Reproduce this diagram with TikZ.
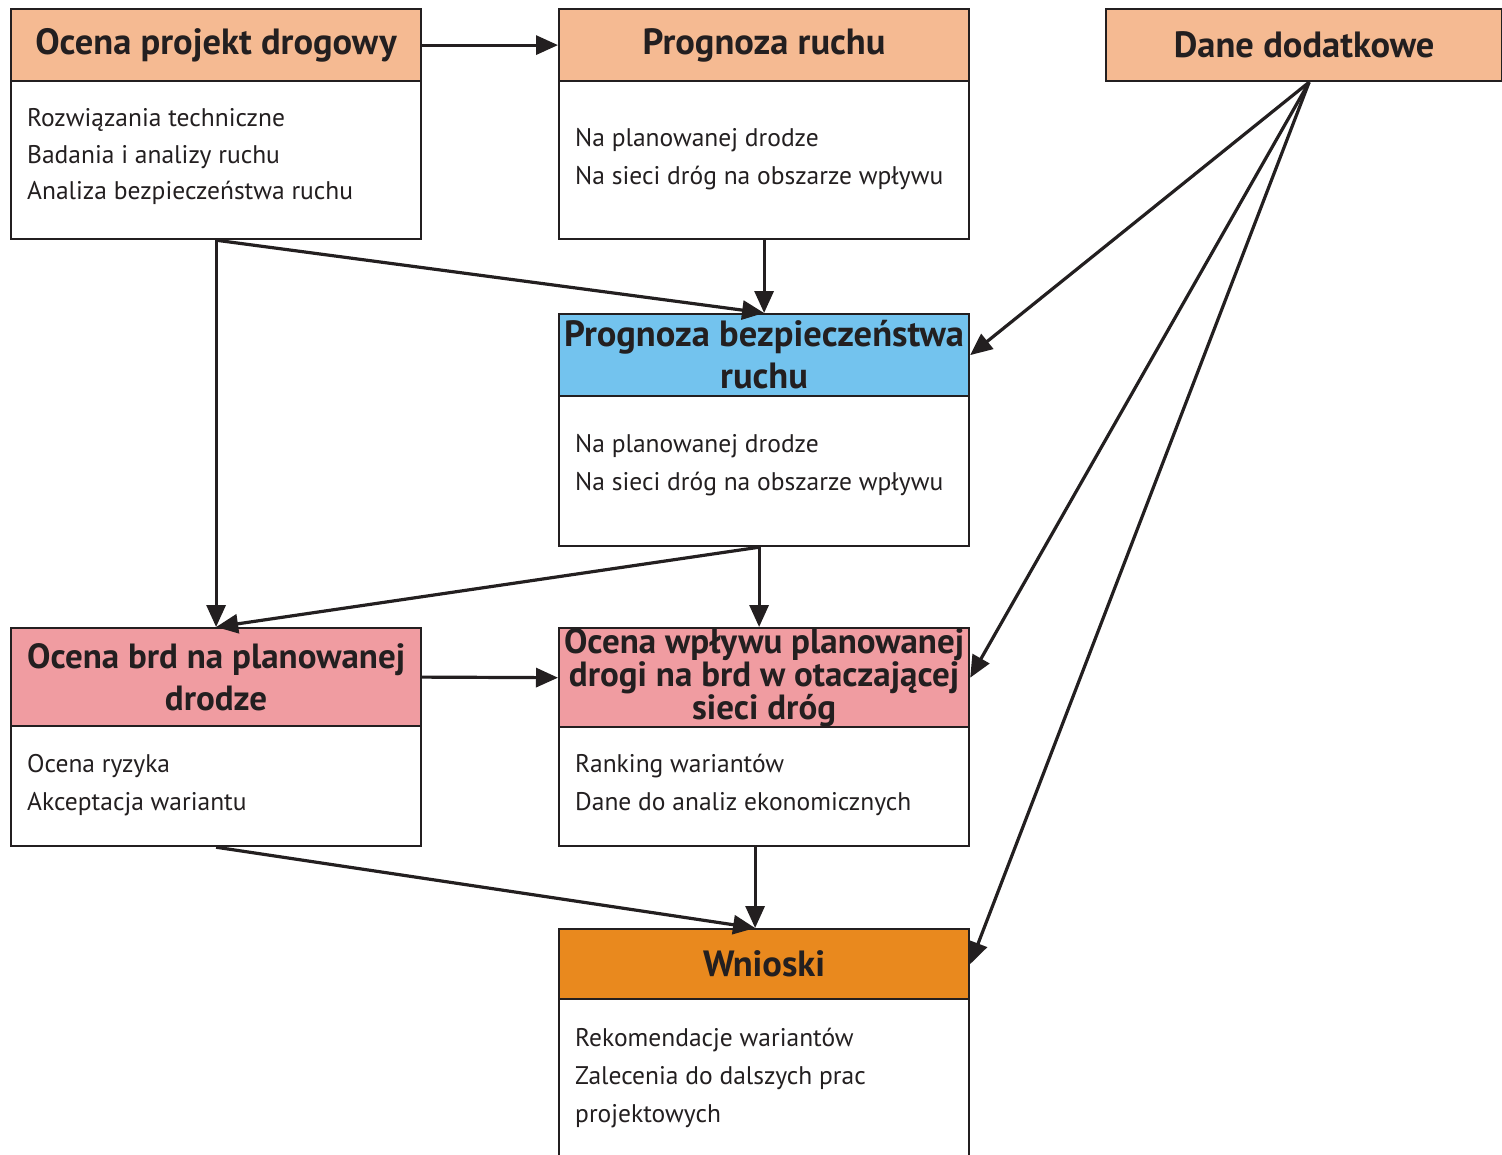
\documentclass[tikz,border=0pt]{standalone}
\usepackage{fontspec}
\setmainfont{PT Sans}
\usetikzlibrary{arrows.meta}
\definecolor{peach}{RGB}{245,186,146}
\definecolor{skyb}{RGB}{115,195,238}
\definecolor{rose}{RGB}{240,156,161}
\definecolor{orng}{RGB}{233,137,30}
\definecolor{ink}{RGB}{35,31,32}
\begin{document}
\begin{tikzpicture}[x=1pt,y=-1pt,
 hdr/.style={draw=ink, line width=2.2pt, minimum width=410pt, anchor=north west, inner sep=0pt, align=center, text=ink, font=\bfseries\fontsize{36.5}{42}\selectfont},
 bodybox/.style={draw=ink, line width=2.2pt, minimum width=410pt, anchor=north west, inner sep=0pt, fill=white},
 txt/.style={anchor=base west, inner sep=0pt, text=ink, font=\fontsize{25.5}{28}\selectfont},
 conn/.style={line width=3.2pt, draw=ink, -{Triangle[length=22pt,width=19pt]}}]
\useasboundingbox (0,0) rectangle (1502,1154);
\clip (0,0) rectangle (1502,1154);
\fill[white] (0,0) rectangle (1502,1154);
% box 1
\node[bodybox, minimum height=158pt] (b1) at (10,80) {};
\node[hdr, fill=peach, minimum height=72pt] (h1) at (10,8) {Ocena projekt drogowy};
\node[txt] (t1a) at (27,126) {Rozwiązania techniczne};
\node[txt] (t1b) at (27,163) {Badania i analizy ruchu};
\node[txt] (t1c) at (27,199) {Analiza bezpieczeństwa ruchu};
% box 2
\node[bodybox, minimum height=158pt] (b2) at (558,80) {};
\node[hdr, fill=peach, minimum height=72pt] (h2) at (558,8) {Prognoza ruchu};
\node[txt] (t2a) at (575,146) {Na planowanej drodze};
\node[txt] (t2b) at (575,184) {Na sieci dróg na obszarze wpływu};
% box 3
\node[hdr, fill=peach, minimum width=396pt, minimum height=72pt] (h3) at (1105,8) {Dane dodatkowe};
% box 4
\node[bodybox, minimum height=150pt] (b4) at (558,395) {};
\node[hdr, fill=skyb, minimum height=82pt] (h4) at (558,313) {Prognoza bezpieczeństwa\\ruchu};
\node[txt] (t4a) at (575,452) {Na planowanej drodze};
\node[txt] (t4b) at (575,490) {Na sieci dróg na obszarze wpływu};
% box 5
\node[bodybox, minimum height=120pt] (b5) at (10,725) {};
\node[hdr, fill=rose, minimum height=98pt, font=\bfseries\fontsize{35}{42}\selectfont] (h5) at (10,627) {Ocena brd na planowanej\\drodze};
\node[txt] (t5a) at (27,772) {Ocena ryzyka};
\node[txt] (t5b) at (27,810) {Akceptacja wariantu};
% box 6
\node[bodybox, minimum height=120pt] (b6) at (558,725) {};
\node[hdr, fill=rose, minimum height=98pt, font=\bfseries\fontsize{35}{31}\selectfont] (h6) at (558,627) {Ocena wpływu planowanej\\drogi na brd w otaczającej\\sieci dróg};
\node[txt] (t6a) at (575,772) {Ranking wariantów};
\node[txt] (t6b) at (575,810) {Dane do analiz ekonomicznych};
% box 7
\node[bodybox, minimum height=220pt] (b7) at (558,998) {};
\node[hdr, fill=orng, minimum height=70pt] (h7) at (558,928) {Wnioski};
\node[txt] (t7a) at (575,1046) {Rekomendacje wariantów};
\node[txt] (t7b) at (575,1084) {Zalecenia do dalszych prac};
\node[txt] (t7c) at (575,1122) {projektowych};
% helper coordinates
\coordinate (d3) at ([xshift=5pt]h3.south);
\coordinate (b4s) at ([xshift=-5pt]b4.south);
\coordinate (h6n) at ([xshift=-5pt]h6.north);
\coordinate (b6s) at ([xshift=-9pt]b6.south);
\coordinate (h7n) at ([xshift=-9pt]h7.north);
% connectors
\draw[conn] (h1.east) -- (h2.west);
\draw[conn] (b1.south) -- (h5.north);
\draw[conn] (b1.south) -- (h4.north);
\draw[conn] (b2.south) -- (h4.north);
\draw[conn] (d3) -- (h4.east);
\draw[conn] (d3) -- (h6.east);
\draw[conn] (d3) -- (h7.east);
\draw[conn] (b4s) -- (h6n);
\draw[conn] (b4s) -- (h5.north);
\draw[conn] (h5.east) -- (h6.west);
\draw[conn] (b5.south) -- (h7n);
\draw[conn] (b6s) -- (h7n);
\end{tikzpicture}
\end{document}
